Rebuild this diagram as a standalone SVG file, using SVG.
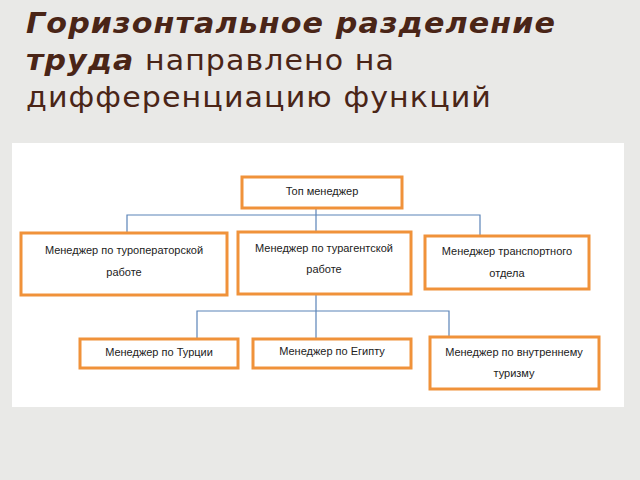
<svg xmlns="http://www.w3.org/2000/svg" width="640" height="480" viewBox="0 0 640 480">
<style>
.t{font-family:"DejaVu Sans","Open Sans",sans-serif;font-size:28px;fill:#4a2517;letter-spacing:1px}
.b{fill:#fff;stroke:#f0923a;stroke-width:3}
.l{font-family:"Liberation Sans",Arial,sans-serif;font-size:11px;fill:#222;text-anchor:middle}
.c{fill:none;stroke:#5b84b8;stroke-width:1.2}
</style>
<rect width="640" height="480" fill="#e9e9e7"/>
<text class="t" x="26" y="33" textLength="530" lengthAdjust="spacingAndGlyphs" font-weight="bold" font-style="italic">Горизонтальное разделение</text>
<text class="t" x="26" y="70" textLength="369" lengthAdjust="spacingAndGlyphs"><tspan font-weight="bold" font-style="italic">труда</tspan> направлено на</text>
<text class="t" x="26" y="107" textLength="466" lengthAdjust="spacingAndGlyphs">дифференциацию функций</text>
<rect x="12" y="143" width="612" height="264" fill="#fff"/>
<g id="connectors">
<path class="c" d="M316 208V232M127 233V215H480V237"/>
<path class="c" d="M316 294V339M197 339V311H449V337"/>
</g>
<g id="top"><rect class="b" x="242" y="177" width="160" height="31"/><text class="l" x="322" y="195">Топ менеджер</text></g>
<g id="n1"><rect class="b" x="21" y="233" width="206" height="62"/><text class="l" x="124" y="254">Менеджер по туроператорской</text><text class="l" x="124" y="276">работе</text></g>
<g id="n2"><rect class="b" x="238" y="232" width="173" height="62"/><text class="l" x="324" y="252">Менеджер по турагентской</text><text class="l" x="324" y="273">работе</text></g>
<g id="n3"><rect class="b" x="425" y="236" width="164" height="53"/><text class="l" x="507" y="255">Менеджер транспортного</text><text class="l" x="507" y="277">отдела</text></g>
<g id="n4"><rect class="b" x="80" y="339" width="158" height="29"/><text class="l" x="159" y="356">Менеджер по Турции</text></g>
<g id="n5"><rect class="b" x="253" y="339" width="158" height="29"/><text class="l" x="332" y="355">Менеджер по Египту</text></g>
<g id="n6"><rect class="b" x="430" y="337" width="169" height="52"/><text class="l" x="514" y="356">Менеджер по внутреннему</text><text class="l" x="514" y="377">туризму</text></g>
</svg>
